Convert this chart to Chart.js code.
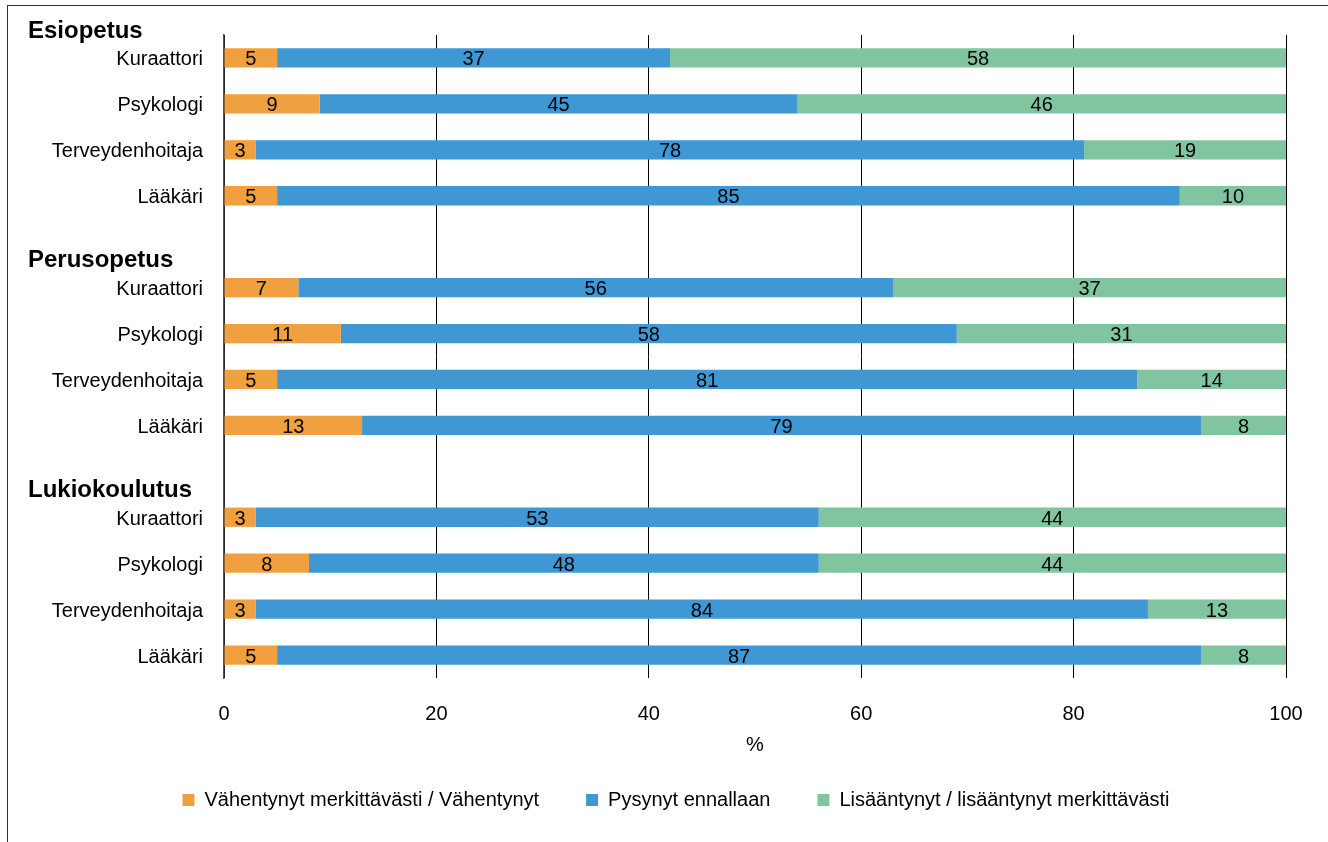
<!DOCTYPE html>
<html>
<head>
<meta charset="utf-8">
<script src="https://cdn.jsdelivr.net/npm/chart.js@4.4.1/dist/chart.umd.min.js"></script>
<style>
  html, body { margin: 0; padding: 0; background: #fff; }
  #wrap { position: relative; width: 1328px; height: 842px; overflow: hidden; }
  #frame { position: absolute; left: 7px; top: 5px; width: 1400px; height: 900px; border-left: 1.5px solid #333; border-top: 1.5px solid #333; }
  canvas { position: absolute; left: 0; top: 0; }
</style>
</head>
<body>
<div id="wrap">
  <div id="frame"></div>
  <canvas id="id-chart" width="1328" height="842"></canvas>
</div>
<script>
  // rows, with an empty row between school levels
  var rowLabels = ["Kuraattori", "Psykologi", "Terveydenhoitaja", "Lääkäri", "",
                   "Kuraattori", "Psykologi", "Terveydenhoitaja", "Lääkäri", "",
                   "Kuraattori", "Psykologi", "Terveydenhoitaja", "Lääkäri"];
  var groupLabels = ["Esiopetus", "Perusopetus", "Lukiokoulutus"];
  var groupStartRows = [0, 5, 10];
  var seriesNames = ["Vähentynyt merkittävästi / Vähentynyt", "Pysynyt ennallaan", "Lisääntynyt / lisääntynyt merkittävästi"];
  var decreased = [5, 9, 3, 5, null, 7, 11, 5, 13, null, 3, 8, 3, 5];
  var unchanged = [37, 45, 78, 85, null, 56, 58, 81, 79, null, 53, 48, 84, 87];
  var increased = [58, 46, 19, 10, null, 37, 31, 14, 8, null, 44, 44, 13, 8];
  var xTicks = [0, 20, 40, 60, 80, 100];

  var fontFamily = "'Liberation Sans', Arial, sans-serif";
  Chart.defaults.font.family = fontFamily;
  Chart.defaults.font.size = 20;
  Chart.defaults.color = "#000";

  // ----------------------------- value labels -----------------------------
  var valueLabels = {
    id: "valueLabels",
    afterDatasetsDraw: function(chart) {
      var ctx = chart.ctx;
      ctx.save();
      ctx.font = "20px " + fontFamily;
      ctx.fillStyle = "#000";
      ctx.textAlign = "center";
      ctx.textBaseline = "middle";
      chart.data.datasets.forEach(function(ds, i) {
        chart.getDatasetMeta(i).data.forEach(function(bar, j) {
          if (ds.data[j] == null) return;
          var p = bar.getCenterPoint();
          ctx.fillText(ds.data[j], p.x, p.y + 2);
        });
      });
      ctx.restore();
    }
  };

  // ----------------------------- group headers -----------------------------
  var groupHeaders = {
    id: "groupHeaders",
    afterDraw: function(chart) {
      var ctx = chart.ctx;
      var yScale = chart.scales.y;
      ctx.save();
      ctx.font = "bold 24px " + fontFamily;
      ctx.fillStyle = "#000";
      ctx.textAlign = "left";
      ctx.textBaseline = "middle";
      groupLabels.forEach(function(label, i) {
        ctx.fillText(label, 28, yScale.getPixelForValue(groupStartRows[i]) - 27);
      });
      ctx.restore();
    }
  };

  new Chart("id-chart", {
    type: "bar",
    data: {
      labels: rowLabels,
      datasets: [
        {label: seriesNames[0], data: decreased, backgroundColor: "#f0a03f"},
        {label: seriesNames[1], data: unchanged, backgroundColor: "#3f97d4"},
        {label: seriesNames[2], data: increased, backgroundColor: "#80c59f"}
      ]
    },
    options: {
      indexAxis: "y",
      responsive: false,
      animation: false,
      datasets: {bar: {categoryPercentage: 1, barPercentage: 0.42}},
      layout: {padding: {top: 35, right: 42, bottom: 22, left: 66}},
      scales: {
        x: {
          stacked: true,
          min: 0,
          max: 100,
          afterBuildTicks: function(scale) {
            scale.ticks = xTicks.map(function(v) { return {value: v}; });
          },
          afterFit: function(scale) { scale.height = 65; },
          grid: {color: "#000", lineWidth: 1, drawTicks: false},
          border: {display: false},
          ticks: {padding: 24},
          title: {display: true, text: "%", padding: {top: 0, bottom: -14}}
        },
        y: {
          stacked: true,
          afterFit: function(scale) {
            scale.width = 158;
            // labels reach left of the narrow axis box, so don't clip them
            scale._computeLabelArea = function() {};
          },
          grid: {display: false, drawTicks: false},
          border: {color: "#555", width: 1.5},
          ticks: {padding: 21, autoSkip: false, labelOffset: 2}
        }
      },
      plugins: {
        legend: {
          position: "bottom",
          labels: {boxWidth: 12, boxHeight: 12, padding: 47}
        },
        tooltip: {enabled: false}
      }
    },
    plugins: [valueLabels, groupHeaders]
  });
</script>
</body>
</html>
